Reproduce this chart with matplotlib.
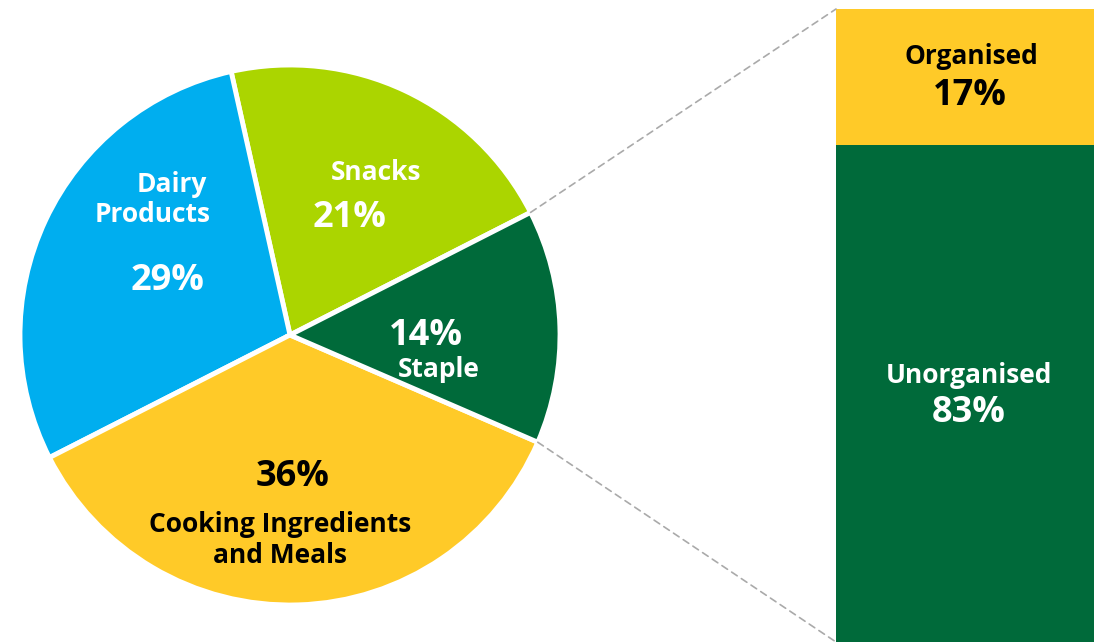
import matplotlib
matplotlib.use("Agg")
import matplotlib.pyplot as plt
from matplotlib.patches import ConnectionPatch
import numpy as np

# food categories (share of market, %)
categories = ["Snacks", "Dairy\nProducts", "Cooking Ingredients\nand Meals", "Staple"]
shares = [21, 29, 36, 14]
pie_colors = ["#abd500", "#00aeef", "#ffca28", "#006a3a"]

# organised vs unorganised split of staples
split_labels = ["Unorganised", "Organised"]
split_values = [83, 17]
split_colors = ["#006a3a", "#ffca28"]

W, H = 1094, 642
plt.rcParams["font.family"] = ["Open Sans", "DejaVu Sans"]

fig = plt.figure(figsize=(W / 100, H / 100), dpi=100)


def fx(px):
    return px / W


def fy(py):
    # text baselines sit a little low for this font, nudge down
    return 1 - (py + 3) / H


# pie on the left
ax = fig.add_axes([fx(20), 1 - 605 / H, 540 / W, 540 / H])
wedges, _ = ax.pie(shares, colors=pie_colors, startangle=27, counterclock=True,
                   wedgeprops=dict(edgecolor="white", linewidth=3.5))
ax.set_xlim(-1, 1)
ax.set_ylim(-1, 1)
ax.set_aspect("equal")
ax.axis("off")

# stacked bar on the right, cut off at the bottom edge
bx = fig.add_axes([fx(836), 0, 258 / W, (H - 9) / H])
bottom = 0
for val, col in zip(split_values, split_colors):
    bx.bar(0, val, bottom=bottom, width=1, color=col, linewidth=0)
    bottom += val
bx.set_xlim(-0.5, 0.5)
bx.set_ylim(100 - (H - 9) * split_values[1] / 135.5, 100)
bx.axis("off")

# dashed connectors from the staple wedge to the bar
staple = wedges[3]
for theta, ycorner in [(staple.theta2, 100), (staple.theta1, bx.get_ylim()[0])]:
    t = np.deg2rad(theta)
    con = ConnectionPatch(xyA=(np.cos(t), np.sin(t)), coordsA=ax.transData,
                          xyB=(-0.5, ycorner), coordsB=bx.transData,
                          color="#aaaaaa", linewidth=1.2, linestyle=(0, (4, 3)))
    fig.add_artist(con)

lab_kw = dict(ha="center", va="center", fontweight="bold")
big, small = 26, 19

# pie labels
fig.text(fx(376), fy(170), categories[0], color="white", fontsize=small, **lab_kw)
fig.text(fx(350), fy(215), f"{shares[0]}%", color="white", fontsize=big, **lab_kw)

fig.text(fx(172), fy(181), categories[1].split("\n")[0], color="white", fontsize=small, **lab_kw)
fig.text(fx(153), fy(212), categories[1].split("\n")[1], color="white", fontsize=small, **lab_kw)
fig.text(fx(168), fy(278), f"{shares[1]}%", color="white", fontsize=big, **lab_kw)

fig.text(fx(293), fy(474), f"{shares[2]}%", color="black", fontsize=big, **lab_kw)
fig.text(fx(280), fy(537), categories[2], color="black", fontsize=small,
         linespacing=1.2, **lab_kw)

fig.text(fx(426), fy(333), f"{shares[3]}%", color="white", fontsize=big, **lab_kw)
fig.text(fx(439), fy(367), categories[3], color="white", fontsize=small, **lab_kw)

# bar labels
fig.text(fx(971), fy(53), split_labels[1], color="black", fontsize=small, **lab_kw)
fig.text(fx(970), fy(93), f"{split_values[1]}%", color="black", fontsize=big, **lab_kw)
fig.text(fx(969), fy(373), split_labels[0], color="white", fontsize=small, **lab_kw)
fig.text(fx(969), fy(410), f"{split_values[0]}%", color="white", fontsize=big, **lab_kw)

fig.savefig("out.png", dpi=100, facecolor="white")
